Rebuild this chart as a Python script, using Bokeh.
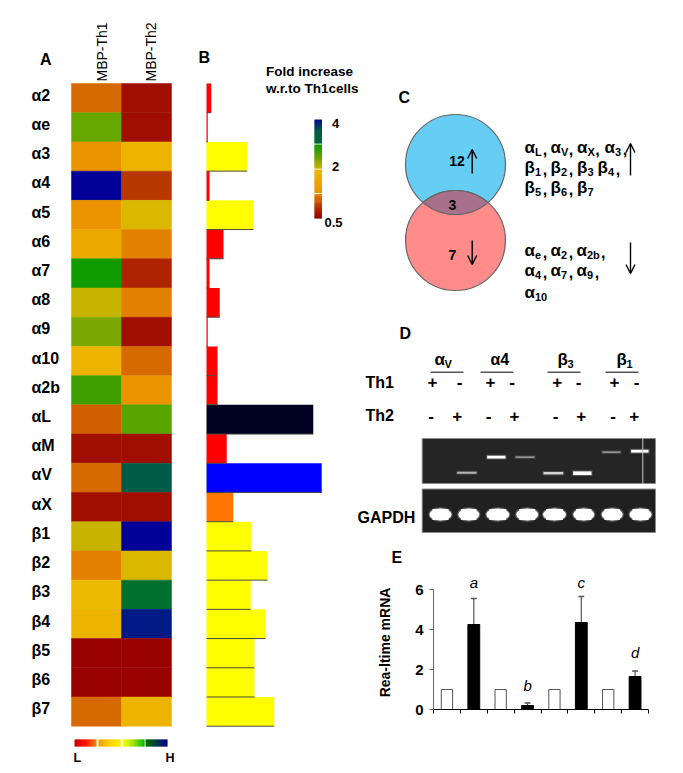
import numpy as np
from bokeh.plotting import figure
from bokeh.models import Range1d, LinearColorMapper, FixedTicker, Arrow, OpenHead, Row, Column, ColumnDataSource
from bokeh.core.properties import value
from bokeh.embed import file_html
from bokeh.resources import INLINE

FONT = value("Liberation Sans")

# ---------- DATA ----------
genes = ["α2", "αe", "α3", "α4", "α5", "α6", "α7", "α8", "α9", "α10", "α2b", "αL", "αM", "αV", "αX",
         "β1", "β2", "β3", "β4", "β5", "β6", "β7"]
heat_palette = ["#990000", "#a00e00", "#ae2400", "#b83800", "#d06000", "#d66a00", "#e38000", "#e88800",
                "#ec9300", "#ecaa00", "#ecb400", "#ecba00", "#dbb800", "#c8b400", "#8aaa00", "#7aa800",
                "#66a800", "#58a500", "#3f9f00", "#109c00", "#00702f", "#005c48", "#001a85", "#000099"]
th1_level = [5, 16, 8, 23, 8, 9, 19, 13, 15, 10, 18, 4, 1, 5, 1, 14, 6, 11, 10, 0, 0, 5]
th2_level = [1, 1, 10, 3, 12, 7, 2, 7, 1, 5, 8, 17, 1, 21, 1, 23, 12, 20, 22, 0, 0, 10]
fold_increase = [0.19, 0.05, 1.63, 0.12, 1.88, 0.68, 0.12, 0.53, 0.05, 0.44, 0.44, 4.27, 0.81, 4.61, 1.07,
                 1.79, 2.44, 1.77, 2.36, 1.92, 1.92, 2.71]
bar_colors = ["#ff0000"] * 2 + ["#ffff00"] + ["#ff0000"] + ["#ffff00"] + ["#ff0000"] * 6 + \
             ["#000020", "#ff0000", "#0000ff", "#ff7700"] + ["#ffff00"] * 7
gel_upper_intensity = [0.6, 1.0, 0.45, 0.75, 1.0, 0.45, 1.0]
gel_upper_thickness = [2.0, 2.8, 1.8, 2.4, 3.6, 1.8, 2.8]
groups = ["αV", "α4", "β3", "β1"]
th1_signs = ["+", "-", "+", "-", "+", "-", "+", "-"]
th2_signs = ["-", "+", "-", "+", "-", "+", "-", "+"]
venn_counts = ["12", "3", "7"]
e_control = [1, 1, 1, 1]
e_treated = [4.25, 0.2, 4.35, 1.65]
e_upper = [5.55, 0.33, 5.65, 1.93]
e_letters = ["a", "b", "c", "d"]
e_ticks = [0, 2, 4, 6]


def base_fig(w, h, xr, yr):
    p = figure(width=w, height=h, x_range=Range1d(*xr), y_range=Range1d(*yr), x_axis_location=None,
               y_axis_location=None, toolbar_location=None, output_backend="svg",
               min_border=0, min_border_left=0, min_border_right=0, min_border_top=0, min_border_bottom=0,
               outline_line_color=None, background_fill_color=None, border_fill_color=None)
    p.grid.visible = False
    return p


def txt(p, x, y, s, size=14, bold=True, align="left", angle=0, italic=False, color="black", **kw):
    style = "bold" if bold else ("italic" if italic else "normal")
    p.text(x=[x], y=[y], text=[s], text_font=FONT, text_font_size=f"{size}px", text_font_style=style,
           text_align=align, text_baseline="middle", angle=angle, text_color=color, **kw)


def lerp(a, b, t):
    ca = [int(a[i:i + 2], 16) for i in (1, 3, 5)]
    cb = [int(b[i:i + 2], 16) for i in (1, 3, 5)]
    return "#%02x%02x%02x" % tuple(int(round(u + (v - u) * t)) for u, v in zip(ca, cb))


def ramp(stops, n):
    out = []
    for k in range(n):
        f = k / max(n - 1, 1) * (len(stops) - 1)
        i = min(int(f), len(stops) - 2)
        out.append(lerp(stops[i], stops[i + 1], f - i))
    return out


# ---------- PANELS A + B ----------
L, R, T, B = 8, 365, 8, 765
ab = base_fig(R - L, B - T, (L, R), (B, T))
row_top, row_px = 83.0, (725.7 - 83.0) / len(genes)
col_left, col_px = 71.0, 50.0
bar_left, fold_px = 206.0, 25.0
ab.extra_y_ranges["rows"] = Range1d((B - row_top) / row_px, (T - row_top) / row_px)
ab.extra_x_ranges["col"] = Range1d((L - col_left) / col_px, (R - col_left) / col_px)
ab.extra_x_ranges["fold"] = Range1d((L - bar_left) / fold_px, (R - bar_left) / fold_px)

mapper = LinearColorMapper(palette=heat_palette, low=0, high=len(heat_palette))
idx = np.arange(len(genes))
for c, levels in enumerate([th1_level, th2_level]):
    src = ColumnDataSource(dict(l=[c] * len(genes), r=[c + 1] * len(genes), t=idx, b=idx + 1, v=levels))
    ab.quad(left="l", right="r", top="t", bottom="b", source=src, x_range_name="col", y_range_name="rows",
            fill_color={"field": "v", "transform": mapper}, line_color={"field": "v", "transform": mapper},
            line_width=0.5)
ab.quad(left=[0] * len(genes), right=fold_increase, top=idx, bottom=idx + 1, fill_color=bar_colors,
        line_color=None, x_range_name="fold", y_range_name="rows")
ab.segment(x0=[0] * len(genes), x1=fold_increase, y0=idx + 1, y1=idx + 1, line_color="#4a4a40", line_width=1,
           x_range_name="fold", y_range_name="rows")

for i, g in enumerate(genes):
    ab.text(x=[31], y=[i + 0.4], text=[g], text_font=FONT, text_font_size="16px", text_font_style="bold",
            text_baseline="middle", y_range_name="rows")
txt(ab, 101.5, 81, "MBP-Th1", 14, bold=False, angle=np.pi / 2)
txt(ab, 150, 81, "MBP-Th2", 14, bold=False, angle=np.pi / 2)
txt(ab, 39.5, 59, "A", 16)
txt(ab, 198, 56.5, "B", 16)
txt(ab, 265.5, 71, "Fold increase", 13.5)
txt(ab, 265.5, 88, "w.r.to Th1cells", 13.5)

# vertical colour key (slices overlap so that no seams show)
for y0, y1, stops in [(119, 143, ["#000f8a", "#005c48", "#006a30"]), (144, 168, ["#109c00", "#60a000", "#c8b400"]),
                      (169, 192.5, ["#ecba00", "#ec9500"]), (193.5, 218, ["#e88000", "#b83800", "#990000"])]:
    n = int(y1 - y0)
    e = np.linspace(y0, y1, n + 1)
    bottoms = np.minimum(e[1:] + 0.7, y1)
    ab.quad(left=[314] * n, right=[321.5] * n, top=e[:-1], bottom=bottoms, fill_color=ramp(stops, n), line_color=None)
txt(ab, 335, 122.5, "4", 13, align="center")
txt(ab, 335, 165.5, "2", 13, align="center")
txt(ab, 324, 221.5, "0.5", 13)

# horizontal L-H key
for x0, x1, stops in [(74, 96, ["#cc0000", "#ff1000", "#f08000"]), (98, 120, ["#f0a000", "#ffd000", "#ffee00"]),
                      (122, 144, ["#ffff00", "#a0e000", "#00c000"]), (145, 167, ["#007000", "#003a40", "#000090"])]:
    n = int(x1 - x0)
    e = np.linspace(x0, x1, n + 1)
    rights = np.minimum(e[1:] + 0.7, x1)
    ab.quad(left=e[:-1], right=rights, top=[739] * n, bottom=[746] * n, fill_color=ramp(stops, n), line_color=None)
txt(ab, 73, 757, "L", 12.5)
txt(ab, 165, 757, "H", 12.5)

# ---------- PANELS C + D ----------
cd = base_fig(325, 562, (350, 675), (570, 8))
txt(cd, 398, 97, "C", 16)
cx, r = 455.0, 50.0
cy_up, cy_dn = 164.0, 240.0
cd.circle(x=[cx], y=[cy_up], radius=r, fill_color="#66cdf5", line_color="#666666", line_width=1.2)
cd.circle(x=[cx], y=[cy_dn], radius=r, fill_color="#ff8b8b", line_color="#666666", line_width=1.2)
half = np.arcsin(np.sqrt(r ** 2 - ((cy_dn - cy_up) / 2) ** 2) / r)
a1 = np.linspace(-half, half, 40)
lens_x = np.concatenate([cx + r * np.sin(a1), cx + r * np.sin(a1[::-1])])
lens_y = np.concatenate([cy_up + r * np.cos(a1), cy_dn - r * np.cos(a1[::-1])])
cd.patch(lens_x, lens_y, fill_color="#a8708a", line_color="#666666", line_width=1.2)
txt(cd, 456.5, 160, venn_counts[0], 14, align="center")
txt(cd, 452, 204, venn_counts[1], 14, align="center")
txt(cd, 452, 254, venn_counts[2], 14, align="center")
for x, y0, y1, size in [(471.7, 173, 149, 9), (471.7, 240, 264, 9), (630, 175, 143, 9), (630, 242, 273, 9)]:
    cd.add_layout(Arrow(end=OpenHead(size=size, line_width=1.4, line_color="black"), x_start=x, y_start=y0,
                        x_end=x, y_end=y1, line_width=1.4, line_color="black"))


def greek(p, x, y, base, sub, comma=True):
    txt(p, x, y, base, 17)
    txt(p, x + 10.5, y + 4, sub, 11)
    if comma:
        txt(p, x + 11 + len(sub) * 6.2 + 1, y + 1, ",", 16)


for y, tokens in [(147, [(524, "α", "L"), (550, "α", "V"), (576.5, "α", "X"), (604, "α", "3")]),
                  (167, [(524, "β", "1"), (550, "β", "2"), (576.5, "β", "3"), (597, "β", "4")]),
                  (187, [(524, "β", "5"), (550, "β", "6"), (576.5, "β", "7")]),
                  (250, [(524, "α", "e"), (550, "α", "2"), (576, "α", "2b")]),
                  (270, [(524, "α", "4"), (550, "α", "7"), (576, "α", "9")]),
                  (292, [(524, "α", "10")])]:
    for x, b, s in tokens:
        greek(cd, x, y, b, s, comma=not (s in ("7", "10") and y in (187, 292)) and (b, s, y) != ("β", "3", 167))

txt(cd, 399, 333, "D", 16)
for g, x, x0, x1 in zip(groups, [434, 490, 557, 616], [430, 480, 547, 605], [463, 513, 580, 638]):
    if g[1] == "4":
        txt(cd, x, 358.5, g, 16)
    else:
        txt(cd, x, 358.5, g[0], 17)
        txt(cd, x + 10, 363, {"V": "V", "3": "3", "1": "1"}[g[1]], 11)
    cd.segment(x0=[x0], x1=[x1], y0=[371.7], y1=[371.7], line_color="#555555", line_width=1.5)
txt(cd, 365, 381.5, "Th1", 16)
txt(cd, 365, 415, "Th2", 16)
for s, x in zip(th1_signs, [432, 459, 490, 511.7, 556.7, 578, 614, 636]):
    txt(cd, x, 381.5, s, 17, align="center")
for s, x in zip(th2_signs, [430.7, 456.7, 488, 514, 555, 580.7, 612.7, 633.7]):
    txt(cd, x, 415, s, 17, align="center")
cd.quad(left=[421.7], right=[655], top=[438], bottom=[483], fill_color="#252525", line_color="#8a8a8a", line_width=1)
cd.quad(left=[421.7], right=[655], top=[488.5], bottom=[532], fill_color="#202020", line_color="#8a8a8a", line_width=1)
upper_x = [(456.7, 476), (486.7, 505), (515, 534), (543, 562.7), (572.7, 591), (601.7, 620), (630.7, 648)]
upper_y = [472.3, 456.7, 456.7, 472.7, 472.7, 451.7, 450.7]
for (x0, x1), y, a, th in zip(upper_x, upper_y, gel_upper_intensity, gel_upper_thickness):
    cd.quad(left=[x0 - 1], right=[x1 + 1], top=[y - th / 2 - 1], bottom=[y + th / 2 + 1], fill_color="#ffffff", fill_alpha=0.22 * a, line_color=None)
    cd.quad(left=[x0], right=[x1], top=[y - th / 2], bottom=[y + th / 2], fill_color="#ffffff", fill_alpha=a, line_color=None)
cd.segment(x0=[642.3], x1=[642.3], y0=[438], y1=[483], line_color="#c8c8c8", line_width=1)
gx = [440, 468.3, 497.3, 526.7, 554, 583.3, 611.7, 640]
gw = [21, 20, 22, 21, 22, 20, 20, 21]
cd.ellipse(x=gx, y=[514] * 8, width=[w + 3 for w in gw], height=14.5, fill_color="#ffffff", fill_alpha=0.3, line_color=None)
cd.ellipse(x=gx, y=[514] * 8, width=[w + 1 for w in gw], height=12, fill_color="#ffffff", line_color=None)
cd.quad(left=[x - w * 0.38 for x, w in zip(gx, gw)], right=[x + w * 0.38 for x, w in zip(gx, gw)],
        top=[508.5] * 8, bottom=[519.5] * 8, fill_color="#ffffff", line_color=None)
txt(cd, 357, 516.5, "GAPDH", 16)
txt(cd, 391, 557, "E", 16)

# ---------- PANEL E ----------
pe = figure(width=325, height=195, x_range=Range1d(0, 8), y_range=Range1d(0, 6.7), toolbar_location=None,
            output_backend="svg", min_border_left=83, min_border_right=27, min_border_top=5, min_border_bottom=56,
            outline_line_color=None, background_fill_color=None, border_fill_color=None)
pe.grid.visible = False
ya, xa = pe.yaxis[0], pe.xaxis[0]
ya.ticker = FixedTicker(ticks=e_ticks)
ya.bounds = (0, 6)
ya.axis_line_color = "#666666"
ya.major_tick_line_color = "#666666"
ya.major_tick_out, ya.major_tick_in = 4, 0
ya.minor_tick_line_color = None
ya.major_label_text_font = "Liberation Sans"
ya.major_label_text_font_style = "bold"
ya.major_label_text_font_size = "15px"
ya.major_label_text_color = "black"
ya.major_label_standoff = 6
ya.axis_label = "Rea-ltime mRNA"
ya.axis_label_text_font = "Liberation Sans"
ya.axis_label_text_font_style = "bold"
ya.axis_label_text_font_size = "14px"
ya.axis_label_text_color = "black"
ya.axis_label_standoff = 19
xa.ticker = FixedTicker(ticks=list(range(9)))
xa.major_label_overrides = {i: "" for i in range(9)}
xa.major_tick_line_color = "black"
xa.major_tick_out, xa.major_tick_in = 4, 0
xa.minor_tick_line_color = None
xa.axis_line_color = "black"
ctrl_x = [0.5, 2.5, 4.5, 6.5]
trt_x = [1.5, 3.5, 5.5, 7.5]
pe.vbar(x=ctrl_x, top=e_control, bottom=0, width=0.42, fill_color="white", line_color="#555555", line_width=1)
pe.segment(x0=trt_x, x1=trt_x, y0=e_treated, y1=e_upper, line_color="#555555", line_width=1.2)
pe.segment(x0=[x - 0.11 for x in trt_x], x1=[x + 0.11 for x in trt_x], y0=e_upper, y1=e_upper,
           line_color="#555555", line_width=1.5)
pe.vbar(x=trt_x, top=e_treated, bottom=0, width=0.44, fill_color="black", line_color="black", line_width=1)
pe.text(x=trt_x, y=[u + o for u, o in zip(e_upper, [0.8, 0.87, 0.7, 0.94])], text=e_letters, text_font=FONT,
        text_font_size="15px", text_font_style="italic", text_align="center", text_baseline="middle")

cd.margin = (0, 0, 0, 0)
pe.margin = (0, 0, 0, 0)
ab.margin = (0, 0, 0, 0)
right = Column(children=[Row(children=[cd], margin=(0, 0, 0, 0)), Row(children=[pe], margin=(0, 0, 0, 0))],
               margin=(0, 0, 0, -15))
layout = Row(children=[ab, right], margin=(8, 0, 0, 8))
open("out.html", "w").write(file_html(layout, INLINE))
